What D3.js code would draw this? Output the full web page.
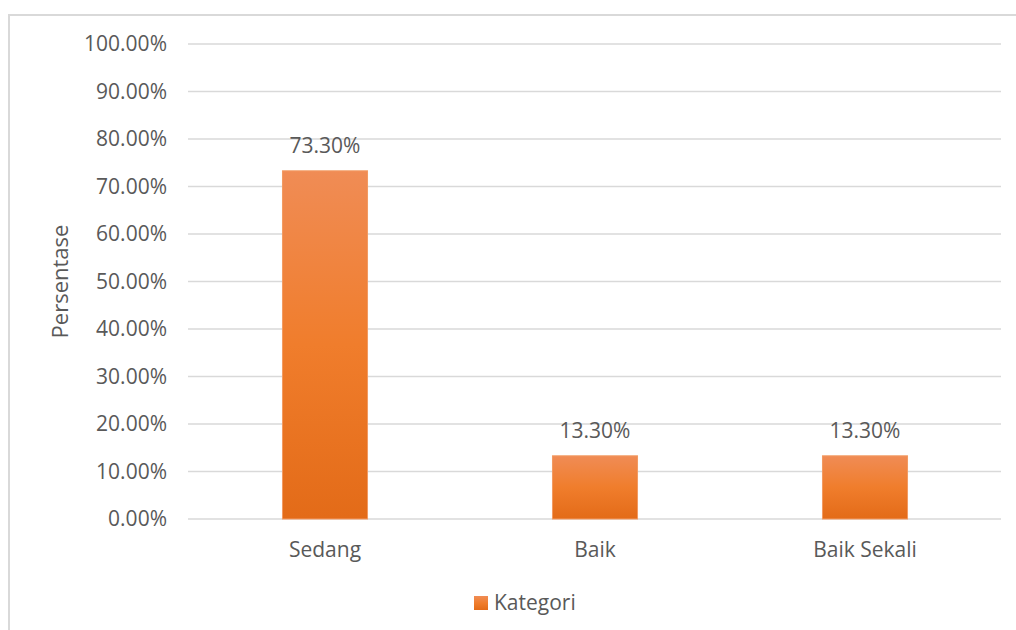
<!DOCTYPE html>
<html>
<head>
<meta charset="utf-8">
<script src="https://cdn.jsdelivr.net/npm/d3@7"></script>
<style>
  body { margin: 0; background: #fff; }
  text { font-family: "Open Sans", sans-serif; fill: #595959; }
</style>
</head>
<body>
<script>
const categories = ["Sedang", "Baik", "Baik Sekali"];
const values = [0.733, 0.133, 0.133];
const yTicks = [0, 0.1, 0.2, 0.3, 0.4, 0.5, 0.6, 0.7, 0.8, 0.9, 1.0];
const seriesName = "Kategori";

const width = 1016, height = 630;
const plot = { left: 190, right: 1000, top: 44, bottom: 519 };
const fs = 21;

const svg = d3.select("body").append("svg")
  .attr("width", width)
  .attr("height", height);

// chart frame (only top and left edges are visible)
svg.append("rect")
  .attr("x", 9).attr("y", 15)
  .attr("width", 1020).attr("height", 640)
  .attr("fill", "none")
  .attr("stroke", "#d9d9d9")
  .attr("stroke-width", 2);

const defs = svg.append("defs");
const grad = defs.append("linearGradient")
  .attr("id", "barGrad")
  .attr("x1", 0).attr("y1", 0).attr("x2", 0).attr("y2", 1);
grad.append("stop").attr("offset", "0%").attr("stop-color", "#f08c55");
grad.append("stop").attr("offset", "50%").attr("stop-color", "#f07d2c");
grad.append("stop").attr("offset", "100%").attr("stop-color", "#e36b18");

const x = d3.scaleBand()
  .domain(categories)
  .range([plot.left, plot.right]);

const y = d3.scaleLinear()
  .domain([0, 1])
  .range([plot.bottom, plot.top]);

// gridlines
svg.append("g")
  .selectAll("line")
  .data(yTicks)
  .enter()
  .append("line")
  .attr("x1", 188)
  .attr("x2", 1001)
  .attr("y1", d => y(d))
  .attr("y2", d => y(d))
  .attr("stroke", "#d9d9d9")
  .attr("stroke-width", 1.3);

// y axis labels
const yAxis = svg.append("g")
  .attr("transform", `translate(${plot.left - 20},0)`)
  .call(d3.axisLeft(y).tickValues(yTicks).tickFormat(d3.format(".2%")).tickSize(0));
yAxis.select(".domain").remove();
yAxis.selectAll("text")
  .attr("font-size", fs)
  .attr("font-family", "Open Sans, sans-serif")
  .attr("fill", "#595959")
  .attr("x", -3);

// x axis labels
const xAxis = svg.append("g")
  .attr("transform", `translate(0,${plot.bottom + 20})`)
  .call(d3.axisBottom(x).tickSize(0));
xAxis.select(".domain").remove();
xAxis.selectAll("text")
  .attr("font-size", fs)
  .attr("font-family", "Open Sans, sans-serif")
  .attr("fill", "#595959");

// bars
const barW = x.bandwidth() * 0.315;
svg.selectAll(".bar")
  .data(values)
  .enter()
  .append("rect")
  .attr("class", "bar")
  .attr("x", (d, i) => x(categories[i]) + x.bandwidth() / 2 - barW / 2)
  .attr("y", d => y(d))
  .attr("width", barW)
  .attr("height", d => plot.bottom - y(d))
  .attr("fill", "url(#barGrad)")
  .attr("stroke", "#f29a62")
  .attr("stroke-width", 1);

// data labels
svg.selectAll(".label")
  .data(values)
  .enter()
  .append("text")
  .attr("class", "label")
  .attr("x", (d, i) => x(categories[i]) + x.bandwidth() / 2)
  .attr("y", d => y(d) - 18)
  .attr("text-anchor", "middle")
  .attr("font-size", fs)
  .text(d => d3.format(".2%")(d));

// y axis title
svg.append("text")
  .attr("transform", `translate(68,${(plot.top + plot.bottom) / 2}) rotate(-90)`)
  .attr("text-anchor", "middle")
  .attr("font-size", fs + 1)
  .text("Persentase");

// legend
const legend = svg.append("g").attr("transform", "translate(474,596)");
legend.append("rect")
  .attr("width", 14).attr("height", 14)
  .attr("fill", "url(#barGrad)");
legend.append("text")
  .attr("x", 20).attr("y", 14)
  .attr("font-size", fs)
  .text(seriesName);
</script>
</body>
</html>
